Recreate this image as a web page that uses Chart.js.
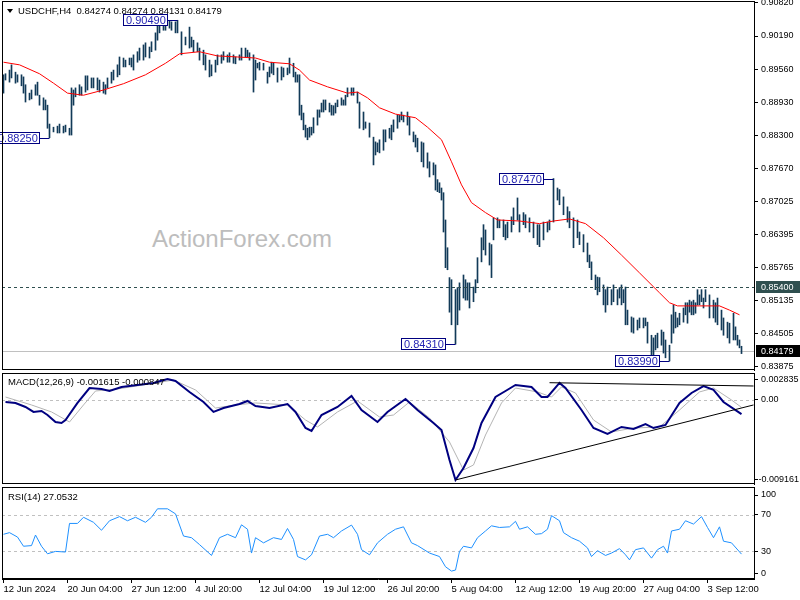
<!DOCTYPE html>
<html>
<head>
<meta charset="utf-8">
<title>USDCHF H4</title>
<script src="https://cdn.jsdelivr.net/npm/chart.js@4.4.1/dist/chart.umd.min.js"></script>
<style>
  body { margin: 0; background: #fff; }
  #wrap { position: relative; width: 800px; height: 600px; overflow: hidden; font-family: "Liberation Sans", Arial, sans-serif; }
  .pane { position: absolute; left: 0; width: 800px; }
  .txt { position: absolute; font-size: 9.5px; line-height: 1; white-space: pre; color: #000; }
  #wm { position: absolute; left: 152px; top: 227px; font-size: 24px; line-height: 1; color: #bdbdbd; }
  #tri { position: absolute; left: 7px; top: 9px; width: 0; height: 0; border-left: 3px solid transparent; border-right: 3px solid transparent; border-top: 4px solid #000; }
</style>
</head>
<body>
<div id="wrap">
  <div id="wm">ActionForex.com</div>
  <div class="pane" style="top:0;height:372px"><canvas id="priceChart"></canvas></div>
  <div class="pane" style="top:371px;height:115px"><canvas id="macdChart"></canvas></div>
  <div class="pane" style="top:486px;height:114px"><canvas id="rsiChart"></canvas></div>
  <div id="tri"></div>
  <div class="txt" style="left:18px;top:6px">USDCHF,H4  0.84274 0.84274 0.84131 0.84179</div>
  <div class="txt" style="left:8px;top:377px">MACD(12,26,9) -0.001615 -0.000847</div>
  <div class="txt" style="left:8px;top:492px">RSI(14) 27.0532</div>
</div>
<script>
// H4 bars, counted from the first bar on screen (12 Jun 20:00)
const barIdx = [
  0,1,3,4,6,7,9,10,11,13,14,16,17,18,20,21,22,23,25,27,28,30,31,33,34,35,36,38,39,41,42,44,45,47,48,50,51,52,54,55,57,58,60,61,63,
  64,65,67,68,70,71,73,74,76,77,78,80,81,83,84,86,87,89,91,93,94,95,97,98,100,101,103,104,106,107,109,110,112,113,115,116,118,119,121,122,123,125,
  126,127,128,130,132,133,134,135,137,139,140,142,143,145,146,147,148,149,150,151,152,153,154,155,157,158,159,160,161,163,164,165,166,167,169,170,171,172,174,175,177,178,180,181,183,185,186,187,
  188,190,191,193,194,195,197,198,199,200,202,203,205,206,207,209,210,212,213,215,216,217,218,219,220,221,222,223,224,226,227,228,230,231,232,233,235,236,237,239,240,241,243,244,245,247,248,
  250,251,252,254,255,257,258,260,261,263,265,267,268,270,272,273,275,277,278,280,282,283,285,287,288,290,292,293,294,296,297,298,300,301,302,304,305,307,308,309,310,
  311,312,314,315,317,318,320,321,322,324,325,326,327,329,330,331,333,334,335,336,337,338,340,341,342,343,344,345,346,347,348,349,350,351,353,355,356,357,359,360,362,363,365,366,367,368,369
];
const barHigh = [
  0.8945,0.8947,0.8954,0.8964,0.8950,0.8945,0.8945,0.8941,0.8926,0.8910,0.8916,0.8926,0.8931,0.8906,0.8901,0.8897,0.8887,0.8851,0.8845,0.8847,
  0.8851,0.8847,0.8849,0.8843,0.8920,0.8916,0.8920,0.8926,0.8922,0.8943,0.8943,0.8939,0.8939,0.8939,0.8935,0.8931,0.8926,0.8939,0.8950,0.8954,
  0.8964,0.8979,0.8977,0.8973,0.8977,
  0.8977,0.8983,0.8989,0.8996,0.9002,0.9006,0.8998,0.9008,0.9025,0.9040,0.9046,0.9046,0.9046,0.9048,0.9046,0.9046,0.9049,0.9027,0.9017,0.9036,
  0.9017,0.9011,0.9006,0.8996,0.8992,0.8983,0.8973,0.8964,0.8973,0.8983,0.8983,0.8989,0.8983,0.8987,0.8983,0.8979,0.8983,0.8996,0.8996,0.8992,
  0.8987,0.8983,
  0.8973,0.8967,0.8969,0.8967,0.8950,0.8960,0.8969,0.8967,0.8958,0.8960,0.8958,0.8958,0.8977,0.8967,0.8950,0.8945,0.8945,0.8887,0.8872,0.8849,
  0.8843,0.8845,0.8845,0.8863,0.8878,0.8878,0.8891,0.8897,0.8897,0.8891,0.8887,0.8886,0.8891,0.8897,0.8901,0.8897,0.8906,0.8920,0.8920,0.8920,
  0.8912,0.8893,0.8874,0.8855,0.8853,0.8826,0.8817,0.8815,
  0.8821,0.8840,0.8840,0.8843,0.8849,0.8859,0.8868,0.8868,0.8874,0.8868,0.8874,0.8864,0.8836,0.8830,0.8824,0.8817,0.8815,0.8796,0.8779,0.8777,
  0.8773,0.8745,0.8739,0.8729,0.8720,0.8668,0.8615,0.8558,0.8554,0.8535,0.8539,0.8548,0.8563,0.8554,0.8548,0.8548,0.8540,0.8554,0.8596,0.8634,
  0.8659,0.8649,0.8624,0.8621,0.8672,0.8672,0.8668,
  0.8668,0.8659,0.8664,0.8674,0.8691,0.8710,0.8678,0.8682,0.8678,0.8672,0.8664,0.8659,0.8659,0.8664,0.8664,0.8668,0.8747,0.8729,0.8726,0.8712,
  0.8693,0.8684,0.8672,0.8668,0.8645,0.8640,0.8624,0.8601,0.8588,0.8563,0.8559,0.8558,0.8544,0.8535,0.8540,0.8535,0.8544,0.8535,0.8539,0.8544,
  0.8535,
  0.8540,0.8496,0.8483,0.8481,0.8477,0.8481,0.8481,0.8481,0.8473,0.8448,0.8443,0.8448,0.8452,0.8458,0.8454,0.8439,0.8429,0.8487,0.8506,0.8492,
  0.8481,0.8490,0.8500,0.8510,0.8510,0.8515,0.8512,0.8515,0.8510,0.8535,0.8525,0.8535,0.8519,0.8535,0.8525,0.8515,0.8510,0.8519,0.8496,0.8481,
  0.8473,0.8471,0.8490,0.8464,0.8448,0.8439,0.8427
];
const barLow = [
  0.8910,0.8935,0.8931,0.8939,0.8929,0.8931,0.8924,0.8910,0.8893,0.8897,0.8899,0.8906,0.8906,0.8887,0.8878,0.8878,0.8843,0.8825,0.8836,0.8834,
  0.8834,0.8834,0.8836,0.8830,0.8830,0.8887,0.8903,0.8906,0.8906,0.8912,0.8916,0.8920,0.8920,0.8916,0.8912,0.8910,0.8908,0.8920,0.8929,0.8935,
  0.8941,0.8945,0.8960,0.8960,0.8964,
  0.8960,0.8954,0.8969,0.8973,0.8973,0.8979,0.8977,0.8989,0.8992,0.9011,0.9025,0.9030,0.9030,0.9034,0.9030,0.9025,0.9025,0.8983,0.9002,0.8996,
  0.8998,0.8989,0.8989,0.8973,0.8964,0.8954,0.8941,0.8943,0.8950,0.8964,0.8967,0.8973,0.8969,0.8969,0.8967,0.8966,0.8973,0.8973,0.8979,0.8979,
  0.8973,0.8912,
  0.8935,0.8958,0.8954,0.8954,0.8929,0.8941,0.8948,0.8945,0.8931,0.8935,0.8941,0.8945,0.8948,0.8941,0.8931,0.8931,0.8868,0.8859,0.8840,0.8826,
  0.8821,0.8826,0.8830,0.8834,0.8849,0.8864,0.8874,0.8874,0.8878,0.8874,0.8868,0.8868,0.8872,0.8884,0.8887,0.8887,0.8887,0.8903,0.8906,0.8906,
  0.8891,0.8843,0.8840,0.8843,0.8826,0.8773,0.8792,0.8798,
  0.8796,0.8801,0.8817,0.8824,0.8821,0.8836,0.8843,0.8855,0.8859,0.8855,0.8849,0.8830,0.8817,0.8807,0.8798,0.8779,0.8769,0.8767,0.8750,0.8754,
  0.8725,0.8722,0.8720,0.8706,0.8645,0.8577,0.8573,0.8492,0.8468,0.8431,0.8468,0.8496,0.8519,0.8515,0.8515,0.8500,0.8512,0.8529,0.8548,0.8588,
  0.8611,0.8601,0.8582,0.8558,0.8630,0.8653,0.8653,
  0.8636,0.8630,0.8634,0.8645,0.8659,0.8668,0.8645,0.8659,0.8653,0.8645,0.8634,0.8621,0.8617,0.8630,0.8645,0.8649,0.8664,0.8706,0.8697,0.8678,
  0.8664,0.8653,0.8615,0.8634,0.8621,0.8607,0.8588,0.8577,0.8554,0.8535,0.8525,0.8531,0.8506,0.8492,0.8506,0.8506,0.8512,0.8506,0.8519,0.8506,
  0.8510,
  0.8468,0.8468,0.8454,0.8452,0.8458,0.8462,0.8462,0.8466,0.8433,0.8405,0.8401,0.8420,0.8424,0.8429,0.8414,0.8405,0.8399,0.8433,0.8452,0.8462,
  0.8464,0.8468,0.8473,0.8487,0.8471,0.8492,0.8487,0.8487,0.8490,0.8506,0.8506,0.8512,0.8500,0.8512,0.8481,0.8481,0.8473,0.8468,0.8458,0.8448,
  0.8443,0.8433,0.8439,0.8439,0.8429,0.8424,0.8413
];

// red moving average
const maIdx = [0,8,18,25,32,40,50,60,71,81,88,98,107,117,126,133,143,148,153,162,172,177,182,188,196,206,212,219,224,229,234,241,247,258,268,275,283,291,300,309,318,328,333,337,348,358,363,368];
const maVal = [0.8969,0.8964,0.8947,0.8929,0.8910,0.8906,0.8916,0.8928,0.8945,0.8967,0.8985,0.8989,0.8981,0.8979,0.8977,0.8969,0.8966,0.8954,0.8935,0.8922,
  0.8910,0.8912,0.8901,0.8882,0.8870,0.8863,0.8845,0.8821,0.8779,0.8735,0.8701,0.8682,0.8668,0.8666,0.8661,0.8666,0.8670,0.8661,0.8634,0.8601,
  0.8567,0.8529,0.8510,0.8504,0.8504,0.8504,0.8496,0.8487];

// MACD(12,26,9) main and signal
const macdIdx = [1,6,11,15,19,22,26,29,31,37,43,49,53,59,67,75,82,86,93,100,105,110,118,122,126,133,142,146,151,154,159,167,174,179,187,192,201,207,215,219,
  223,226,230,235,239,246,251,256,264,269,272,278,281,289,295,302,309,315,321,325,331,338,344,350,355,360,369];
const macdVal = [-0.00023,-0.00034,-0.00080,-0.00137,-0.00126,-0.00172,-0.00252,-0.00263,-0.00229,-0.00034,0.00137,0.00126,0.00103,0.00149,0.00172,0.00195,0.00240,0.00218,0.00092,-0.00023,
  -0.00137,-0.00092,-0.00046,-0.00011,-0.00069,-0.00092,-0.00046,-0.00137,-0.00321,-0.00355,-0.00172,-0.00080,0.00046,-0.00115,-0.00252,-0.00137,0.00011,-0.00115,-0.00263,-0.00344,
  -0.00687,-0.00916,-0.00779,-0.00550,-0.00263,0.00034,0.00103,0.00172,0.00149,0.00034,0.00034,0.00195,0.00137,-0.00115,-0.00321,-0.00389,-0.00309,-0.00332,-0.00275,-0.00321,
  -0.00286,-0.00034,0.00080,0.00160,0.00115,-0.00023,-0.001615];
const sigIdx = [1,14,24,33,40,46,57,73,85,96,106,116,126,142,151,157,167,177,188,195,203,213,223,230,235,241,249,256,267,274,279,286,295,304,315,328,338,348,355,364,369];
const sigVal = [0.00034,-0.00057,-0.00137,-0.00252,-0.00057,0.00103,0.00126,0.00183,0.00229,0.00115,-0.00092,-0.00057,-0.00034,-0.00057,-0.00229,-0.00309,-0.00137,-0.00011,-0.00195,-0.00172,
  -0.00023,-0.00206,-0.00481,-0.00802,-0.00744,-0.00401,-0.00034,0.00137,0.00092,0.00034,0.00149,0.00080,-0.00229,-0.00366,-0.00321,-0.00309,-0.00115,0.00092,0.00137,0.00000,-0.000847];
// two trend lines drawn on the MACD window
const tl1Idx = [273, 375], tl1Val = [0.00198, 0.00160];
const tl2Idx = [226, 375], tl2Val = [-0.00916, -0.00057];

// RSI(14)
const rsiIdx = [0,3,7,10,14,16,19,22,26,31,33,37,40,45,49,53,58,62,66,71,74,77,82,86,90,94,98,104,108,112,116,119,122,124,126,130,135,139,142,145,
  147,151,154,158,162,165,169,174,177,179,183,187,192,196,200,204,207,213,218,221,224,226,228,230,234,237,241,244,248,253,256,258,262,266,269,272,274,278,280,284,
  288,292,294,297,301,304,308,311,313,316,320,324,327,330,332,334,338,341,345,349,352,355,358,360,364,369];
const rsiVal = [48.6,50.4,45.6,35.6,36.3,47.8,35.6,27.4,30.0,29.3,60.4,60.4,67.1,61.6,53.0,63.3,67.8,63.3,67.1,61.6,67.1,76.3,76.3,70.8,46.7,44.9,37.4,25.6,44.9,48.6,
  44.9,58.9,54.1,28.2,44.9,39.3,44.9,43.0,54.9,43.0,24.4,20.8,26.3,46.7,48.6,44.9,52.2,58.6,48.6,31.9,26.3,39.3,48.6,54.1,56.7,39.3,36.3,28.2,24.4,13.3,
  8.6,9.7,30.0,35.6,33.8,44.9,52.2,57.8,56.0,56.7,62.7,54.1,56.7,48.6,49.3,54.1,68.9,63.3,50.4,44.9,41.1,33.8,24.4,30.8,25.6,28.2,33.0,26.3,20.8,31.9,
  33.8,22.7,31.9,35.6,28.2,52.2,54.1,63.3,59.7,67.8,56.0,44.9,56.7,41.1,39.3,27.05];

// axis ticks and labels
const priceTicks = [0.90820,0.90190,0.89560,0.88930,0.88300,0.87670,0.87025,0.86395,0.85765,0.85135,0.84505,0.83875];
const macdTicks = [0.00240, 0, -0.00905];
const macdTickText = ['0.002835', '0.00', '-0.009161'];
const rsiTicks = [91.3, 70, 30, 6.5];
const rsiTickText = ['100', '70', '30', '0'];
const timeTickIdx = [0,32,64,96,128,160,192,224,256,288,320,352];
const timeTickText = ['12 Jun 2024','20 Jun 04:00','27 Jun 12:00','4 Jul 20:00','12 Jul 04:00','19 Jul 12:00','26 Jul 20:00','5 Aug 04:00','12 Aug 12:00','19 Aug 20:00','27 Aug 04:00','3 Sep 12:00'];

// highs / lows that carry a price box, the 0.8540 line and the last price
const markIdx = [87, 23, 275, 226, 333];
const markVal = [0.90490, 0.88250, 0.87470, 0.84310, 0.83990];
const levelPrice = 0.85400;
const lastPrice = 0.84179;

const FONT = '"Liberation Sans", Arial, sans-serif';
Chart.defaults.font.family = FONT;
Chart.defaults.color = '#000';

// quarter-bar shift so the 1px bars land on whole pixels
const X_MIN = -0.75, X_MAX = 375.25;
const pts = (xs, ys) => xs.map((x, i) => ({ x: x, y: ys[i] }));

function hiddenX() {
  return { type: 'linear', min: X_MIN, max: X_MAX, offset: false, display: false };
}

function rightAxis(min, max, tickVals, tickText) {
  return {
    position: 'right', min: min, max: max,
    afterBuildTicks: s => { s.ticks = tickVals.map(v => ({ value: v })); },
    afterFit: s => { s.width = 46; s.paddingTop = 0; s.paddingBottom = 0; },
    ticks: { callback: (v, i) => tickText[i], padding: 3, autoSkip: false, font: { size: 9 }, color: '#000' },
    grid: { drawOnChartArea: false, tickLength: 4, color: '#000' },
    border: { color: '#000' }
  };
}

function frame(chart) {
  const { ctx, chartArea: a } = chart;
  ctx.save();
  ctx.strokeStyle = '#000';
  ctx.lineWidth = 1;
  ctx.strokeRect(a.left + 0.5, a.top + 0.5, a.right - a.left, a.bottom - a.top - 1);
  ctx.restore();
}

function hLine(chart, yPix, color, dash) {
  const { ctx, chartArea: a } = chart;
  const yy = Math.round(yPix) + 0.5;
  ctx.save();
  ctx.strokeStyle = color;
  ctx.lineWidth = 1;
  ctx.setLineDash(dash);
  ctx.beginPath();
  ctx.moveTo(a.left, yy);
  ctx.lineTo(a.right, yy);
  ctx.stroke();
  ctx.restore();
}

const base = {
  responsive: true, maintainAspectRatio: false, animation: false, events: [],
  plugins: { legend: { display: false }, tooltip: { enabled: false } }
};

const pricePlugin = {
  id: 'priceMarks',
  beforeDatasetsDraw(chart) {
    hLine(chart, chart.scales.y.getPixelForValue(lastPrice), '#c0c0c0', []);
  },
  afterDatasetsDraw(chart) {
    const { ctx, scales: { x, y } } = chart;
    hLine(chart, y.getPixelForValue(levelPrice), '#2f4f4f', [3, 3]);
    ctx.save();
    ctx.font = '11px ' + FONT;
    ctx.textBaseline = 'middle';
    ctx.textAlign = 'left';
    ctx.lineWidth = 1;
    markIdx.forEach((idx, i) => {
      const px = Math.floor(x.getPixelForValue(idx));
      const py = Math.round(y.getPixelForValue(markVal[i]));
      const txt = markVal[i].toFixed(5);
      const w = Math.ceil(ctx.measureText(txt).width) + 5;
      const r = px - 9;
      ctx.strokeStyle = '#000080';
      ctx.beginPath();
      ctx.moveTo(r, py + 0.5);
      ctx.lineTo(px + 0.5, py + 0.5);
      ctx.stroke();
      ctx.fillStyle = '#fff';
      ctx.fillRect(r - w, py - 6, w, 12);
      ctx.strokeRect(r - w + 0.5, py - 5.5, w - 1, 11);
      ctx.fillStyle = '#2424b4';
      ctx.fillText(txt, r - w + 3, py + 1);
    });
    ctx.restore();
  },
  afterDraw(chart) {
    frame(chart);
    const { ctx, chartArea: a, scales: { y } } = chart;
    ctx.save();
    ctx.font = '9px ' + FONT;
    ctx.textBaseline = 'middle';
    ctx.textAlign = 'left';
    [[levelPrice, '#2f4f4f'], [lastPrice, '#000000']].forEach(([v, bg]) => {
      const py = Math.round(y.getPixelForValue(v));
      ctx.fillStyle = bg;
      ctx.fillRect(a.right + 2, py - 6, chart.width - a.right - 2, 12);
      ctx.fillStyle = '#fff';
      ctx.fillText(v.toFixed(5), a.right + 7, py + 0.5);
    });
    ctx.restore();
  }
};

new Chart(document.getElementById('priceChart'), {
  type: 'line',
  data: {
    datasets: [
      { type: 'line', data: pts(maIdx, maVal), borderColor: '#ff0000', borderWidth: 1, pointRadius: 0, order: 0 },
      { type: 'bar', data: barIdx.map((x, i) => ({ x: x, y: [barLow[i], barHigh[i]] })),
        backgroundColor: '#123a58', barThickness: 1, borderWidth: 0, order: 1 }
    ]
  },
  options: Object.assign({}, base, {
    layout: { padding: { left: 2, top: 1, right: 0, bottom: 2 } },
    scales: {
      x: hiddenX(),
      y: rightAxis(0.83817, 0.90858, priceTicks, priceTicks.map(v => v.toFixed(5)))
    }
  }),
  plugins: [pricePlugin]
});

// MACD window
const macdPlugin = {
  id: 'macdDeco',
  beforeDatasetsDraw(chart) {
    hLine(chart, chart.scales.y.getPixelForValue(0), '#c0c0c0', [3, 3]);
  },
  afterDraw(chart) {
    frame(chart);
    const { ctx, scales: { y } } = chart;
    ctx.save();
    ctx.font = '9px ' + FONT;
    ctx.fillStyle = '#000';
    ctx.textAlign = 'right';
    ctx.textBaseline = 'middle';
    ctx.fillText(macdTickText[2], chart.width - 1, y.getPixelForValue(macdTicks[2]));
    ctx.restore();
  }
};

new Chart(document.getElementById('macdChart'), {
  type: 'line',
  data: {
    datasets: [
      { data: pts(tl1Idx, tl1Val), borderColor: '#000', borderWidth: 1, pointRadius: 0, order: 0 },
      { data: pts(tl2Idx, tl2Val), borderColor: '#000', borderWidth: 1, pointRadius: 0, order: 0 },
      { data: pts(macdIdx, macdVal), borderColor: '#000080', borderWidth: 2, pointRadius: 0, order: 1 },
      { data: pts(sigIdx, sigVal), borderColor: '#b4b4b4', borderWidth: 1, pointRadius: 0, order: 2 }
    ]
  },
  options: Object.assign({}, base, {
    layout: { padding: { left: 2, top: 2, right: 0, bottom: 2 } },
    scales: {
      x: hiddenX(),
      y: rightAxis(-0.00962, 0.00309, macdTicks, ['0.002835', '0.00', ''])
    }
  }),
  plugins: [macdPlugin]
});

// RSI window with the time axis
const rsiPlugin = {
  id: 'rsiDeco',
  beforeDatasetsDraw(chart) {
    hLine(chart, chart.scales.y.getPixelForValue(70), '#c0c0c0', [3, 3]);
    hLine(chart, chart.scales.y.getPixelForValue(30), '#c0c0c0', [3, 3]);
  },
  afterDraw(chart) { frame(chart); }
};

new Chart(document.getElementById('rsiChart'), {
  type: 'line',
  data: {
    datasets: [
      { data: pts(rsiIdx, rsiVal), borderColor: '#1e90ff', borderWidth: 1, pointRadius: 0 }
    ]
  },
  options: Object.assign({}, base, {
    layout: { padding: { left: 2, top: 1, right: 0, bottom: 0 } },
    scales: {
      x: {
        type: 'linear', min: X_MIN, max: X_MAX, offset: false, position: 'bottom',
        afterBuildTicks: s => { s.ticks = timeTickIdx.map(v => ({ value: v })); },
        afterFit: s => { s.height = 21; s.paddingLeft = 0; s.paddingRight = 0; },
        ticks: { callback: (v, i) => timeTickText[i], align: 'start', maxRotation: 0, minRotation: 0,
                 autoSkip: false, padding: 1, font: { size: 9.5 }, color: '#000' },
        grid: { drawOnChartArea: false, tickLength: 4, color: '#000', offset: false },
        border: { color: '#000' }
      },
      y: rightAxis(0, 100, rsiTicks, rsiTickText)
    }
  }),
  plugins: [rsiPlugin]
});
</script>
</body>
</html>
